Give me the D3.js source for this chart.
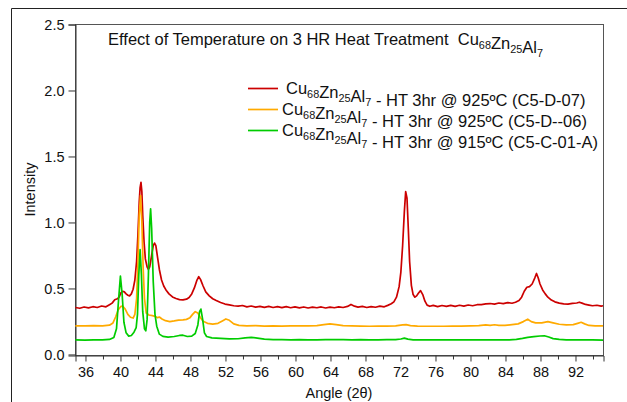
<!DOCTYPE html>
<html>
<head>
<meta charset="utf-8">
<script src="https://cdn.jsdelivr.net/npm/d3@7"></script>
<style>
  body { margin: 0; background: #fff; }
  text { font-family: "Liberation Sans", Arial, sans-serif; fill: #111; }
</style>
</head>
<body>
<svg id="chart" width="627" height="402"></svg>
<script>
// x axis ticks and ranges
const xDomain = [34.86, 95.2];
const yDomain = [-0.008, 2.5];
const xMajorTicks = [36, 40, 44, 48, 52, 56, 60, 64, 68, 72, 76, 80, 84, 88, 92];
const xMinorTicks = [38, 42, 46, 50, 54, 58, 62, 66, 70, 74, 78, 82, 86, 90, 94];
const yTicks = [0.0, 0.5, 1.0, 1.5, 2.0, 2.5];

// C5-D-07 (red)
const redAngle = [34.9,35.4,35.9,36.4,36.9,37.4,37.9,38.4,38.8,39.1,39.4,39.7,39.9,40.1,40.3,40.5,40.7,40.9,41.1,41.3,41.5,41.7,41.9,42.05,42.2,42.3,42.4,42.5,42.6,42.75,42.9,43.1,43.25,43.4,43.6,43.8,43.95,44.1,44.3,44.5,44.75,45.0,45.3,45.6,46.0,46.4,46.8,47.2,47.6,47.9,48.2,48.5,48.8,49.0,49.2,49.5,49.8,50.2,50.6,51.0,51.5,52.0,52.5,53.0,53.5,54.0,54.5,55.0,55.5,56.0,56.5,57.0,57.5,58.0,58.5,59.0,59.5,60.0,60.5,61.0,61.5,62.0,62.5,63.0,63.5,64.0,64.5,65.0,65.5,66.0,66.4,66.8,67.2,67.7,68.2,68.7,69.2,69.7,70.2,70.6,71.0,71.3,71.6,71.9,72.1,72.3,72.5,72.65,72.8,72.95,73.1,73.3,73.5,73.7,73.9,74.1,74.35,74.6,74.85,75.1,75.4,75.8,76.3,76.8,77.3,77.8,78.3,78.8,79.3,79.8,80.3,80.8,81.3,81.8,82.3,82.8,83.3,83.8,84.3,84.8,85.2,85.6,85.9,86.2,86.5,86.8,87.1,87.4,87.6,87.8,88.0,88.3,88.6,88.9,89.3,89.7,90.2,90.7,91.2,91.7,92.2,92.5,92.8,93.2,93.6,94.0,94.5,95.0,95.2];
const redIntensity = [0.352,0.346,0.356,0.349,0.358,0.352,0.363,0.357,0.373,0.385,0.410,0.418,0.430,0.462,0.475,0.470,0.455,0.445,0.440,0.455,0.490,0.560,0.700,0.900,1.150,1.260,1.300,1.230,1.050,0.850,0.720,0.660,0.640,0.660,0.740,0.820,0.840,0.820,0.730,0.640,0.560,0.515,0.480,0.455,0.432,0.420,0.412,0.410,0.415,0.428,0.455,0.500,0.560,0.585,0.565,0.515,0.470,0.440,0.418,0.405,0.390,0.378,0.372,0.365,0.362,0.367,0.357,0.363,0.355,0.361,0.353,0.360,0.352,0.359,0.351,0.358,0.350,0.357,0.349,0.356,0.348,0.355,0.350,0.356,0.348,0.355,0.350,0.357,0.352,0.360,0.375,0.362,0.355,0.360,0.352,0.359,0.354,0.362,0.357,0.368,0.380,0.395,0.430,0.510,0.620,0.820,1.080,1.230,1.180,0.950,0.700,0.520,0.450,0.430,0.440,0.460,0.480,0.450,0.400,0.370,0.361,0.368,0.359,0.367,0.360,0.368,0.361,0.369,0.362,0.371,0.365,0.373,0.374,0.379,0.382,0.378,0.386,0.381,0.389,0.384,0.392,0.405,0.430,0.475,0.505,0.510,0.530,0.575,0.610,0.575,0.530,0.485,0.455,0.430,0.408,0.395,0.385,0.379,0.377,0.383,0.386,0.392,0.385,0.375,0.370,0.365,0.369,0.362,0.365];

// C5-D--06 (orange)
const orangeAngle = [34.9,36,37,38,38.8,39.2,39.5,39.8,40.1,40.3,40.6,40.9,41.2,41.5,41.7,41.9,42.05,42.2,42.35,42.5,42.65,42.8,43.0,43.3,43.7,44.0,44.3,44.5,44.8,45.2,45.7,46.2,46.7,47.2,47.6,48.0,48.3,48.6,48.9,49.2,49.5,50.0,50.6,51.2,51.7,52.1,52.5,53.0,53.6,54.5,55.5,56.5,57.5,58.5,59.5,60.5,61.5,62.5,63.3,64.0,64.7,65.5,66.5,67.5,68.5,69.5,70.5,71.5,72.3,72.7,73.2,74,75,76,77,78,79,80,81,81.8,82.3,82.8,83.3,84.0,84.8,85.5,86.1,86.6,87.0,87.5,88.2,88.9,89.5,90.2,91.0,91.8,92.3,92.7,93.1,93.6,94.3,95.2];
const orangeIntensity = [0.213,0.212,0.214,0.213,0.218,0.235,0.280,0.335,0.360,0.362,0.340,0.300,0.278,0.272,0.300,0.420,0.700,1.050,1.200,1.000,0.650,0.420,0.310,0.295,0.290,0.285,0.275,0.280,0.265,0.252,0.245,0.250,0.256,0.258,0.262,0.275,0.300,0.320,0.310,0.275,0.248,0.232,0.226,0.232,0.250,0.265,0.255,0.228,0.216,0.213,0.214,0.211,0.213,0.211,0.213,0.212,0.212,0.215,0.222,0.228,0.222,0.214,0.212,0.211,0.210,0.211,0.211,0.213,0.220,0.222,0.215,0.211,0.210,0.210,0.210,0.211,0.211,0.212,0.214,0.220,0.216,0.221,0.216,0.216,0.222,0.228,0.245,0.263,0.245,0.235,0.236,0.245,0.236,0.225,0.220,0.222,0.232,0.240,0.228,0.216,0.213,0.212];

// C5-C-01-A (green)
const greenAngle = [34.9,36,37,38,38.8,39.3,39.6,39.85,40.05,40.25,40.45,40.7,41.0,41.3,41.6,41.85,42.0,42.15,42.3,42.45,42.6,42.8,42.95,43.1,43.25,43.4,43.5,43.62,43.8,44.0,44.2,44.5,44.9,45.5,46.2,46.8,47.2,47.7,48.2,48.6,48.9,49.1,49.25,49.45,49.65,49.9,50.5,51.5,52.5,53.5,54.3,55.0,55.7,56.5,57.5,58.5,59.5,60.5,61.5,62.5,63.5,64.5,65.5,66.5,67.5,68.5,69.5,70.5,71.5,72.1,72.5,72.9,73.5,74.5,75.5,76.5,77.5,78.5,79.5,80.5,81.5,82.5,83.5,84.5,85.3,86.0,86.6,87.3,88.0,88.5,89.0,89.5,90.2,91,92,93,94,95.2];
const greenIntensity = [0.106,0.105,0.107,0.106,0.110,0.125,0.190,0.420,0.590,0.450,0.240,0.160,0.135,0.140,0.165,0.200,0.300,0.600,0.790,0.600,0.320,0.190,0.175,0.260,0.600,1.000,1.100,0.950,0.550,0.300,0.210,0.150,0.133,0.128,0.132,0.140,0.142,0.132,0.135,0.155,0.220,0.320,0.340,0.260,0.160,0.132,0.122,0.118,0.114,0.115,0.122,0.126,0.120,0.112,0.109,0.108,0.107,0.108,0.107,0.107,0.109,0.108,0.108,0.107,0.108,0.107,0.107,0.108,0.108,0.113,0.120,0.112,0.107,0.106,0.106,0.107,0.106,0.107,0.107,0.107,0.106,0.107,0.106,0.107,0.110,0.118,0.126,0.131,0.136,0.138,0.128,0.116,0.110,0.107,0.107,0.106,0.106,0.105];

const series = [
  { angle: redAngle, intensity: redIntensity, color: "#cc0000", temp: "925", code: "(C5-D-07)" },
  { angle: orangeAngle, intensity: orangeIntensity, color: "#ffaa00", temp: "925", code: "(C5-D--06)" },
  { angle: greenAngle, intensity: greenIntensity, color: "#00cc00", temp: "915", code: "(C5-C-01-A)" }
];

const svg = d3.select("#chart");
const margin = { left: 75, top: 24, right: 603, bottom: 355 };

// outer frame
svg.append("path")
  .attr("d", "M11.5,402 V8.5 H627")
  .attr("fill", "none")
  .attr("stroke", "#222")
  .attr("stroke-width", 1);

const x = d3.scaleLinear().domain(xDomain).range([margin.left, margin.right]);
const y = d3.scaleLinear().domain(yDomain).range([margin.bottom, margin.top]);

// plot box
svg.append("rect")
  .attr("x", margin.left + 0.5)
  .attr("y", margin.top + 0.5)
  .attr("width", margin.right - margin.left)
  .attr("height", margin.bottom - margin.top)
  .attr("fill", "none")
  .attr("stroke", "#555")
  .attr("stroke-width", 1);

// x axis
svg.append("g")
  .attr("transform", `translate(0.5,${margin.bottom + 0.5})`)
  .call(d3.axisBottom(x).tickValues(xMajorTicks).tickSize(6).tickPadding(5).tickFormat(d3.format("d")));
svg.append("g")
  .attr("transform", `translate(0.5,${margin.bottom + 0.5})`)
  .call(d3.axisBottom(x).tickValues(xMinorTicks).tickSize(4).tickFormat(""))
  .select(".domain").remove();

// y axis
svg.append("g")
  .attr("transform", `translate(${margin.left + 0.5},0.5)`)
  .call(d3.axisLeft(y).tickValues(yTicks).tickSize(7).tickPadding(4).tickFormat(d3.format(".1f")));

svg.selectAll(".domain").attr("stroke", "#333");
svg.selectAll(".tick line").attr("stroke", "#333");
svg.selectAll(".tick text")
  .attr("font-size", 14.5)
  .attr("font-family", "Liberation Sans, Arial, sans-serif")
  .attr("fill", "#111");

// axis titles
svg.append("text")
  .attr("x", (margin.left + margin.right) / 2)
  .attr("y", 398)
  .attr("text-anchor", "middle")
  .attr("font-size", 14.5)
  .text("Angle (2θ)");

svg.append("text")
  .attr("transform", `translate(35,${(margin.top + margin.bottom) / 2}) rotate(-90)`)
  .attr("text-anchor", "middle")
  .attr("font-size", 14.5)
  .text("Intensity");

// curves
const line = d3.line()
  .x(d => x(d[0]))
  .y(d => y(d[1]));

series.forEach(s => {
  const pts = s.angle.map((a, i) => [a, s.intensity[i]]);
  svg.append("path")
    .datum(pts)
    .attr("fill", "none")
    .attr("stroke", s.color)
    .attr("stroke-width", 1.7)
    .attr("stroke-linejoin", "round")
    .attr("d", line);
});

// text with subscripts
function formula(sel, parts, size) {
  parts.forEach(p => {
    if (p.sub) {
      sel.append("tspan").attr("dy", 4).attr("font-size", size * 0.66).text(p.t);
      sel.append("tspan").attr("dy", -4).attr("font-size", size).text("");
    } else {
      sel.append("tspan").attr("font-size", size).text(p.t);
    }
  });
}
const alloy = [{ t: "Cu" }, { t: "68", sub: true }, { t: "Zn" }, { t: "25", sub: true }, { t: "Al" }, { t: "7", sub: true }];

const title = svg.append("text").attr("x", 108).attr("y", 45).attr("font-size", 16.5).attr("xml:space", "preserve");
formula(title, [{ t: "Effect of Temperature on 3 HR Heat Treatment  " }].concat(alloy), 16.5);

// legend
const legendX = [286, 282, 282];
series.forEach((s, i) => {
  const ly = 88 + i * 21;
  svg.append("line")
    .attr("x1", 248).attr("x2", 278)
    .attr("y1", ly + 0.5).attr("y2", ly + 0.5)
    .attr("stroke", s.color)
    .attr("stroke-width", 1.7);
  const t = svg.append("text").attr("x", legendX[i]).attr("y", ly + 6);
  formula(t, alloy.concat([{ t: ` - HT 3hr @ ${s.temp}ºC ${s.code}` }]), 16.5);
});
</script>
</body>
</html>
